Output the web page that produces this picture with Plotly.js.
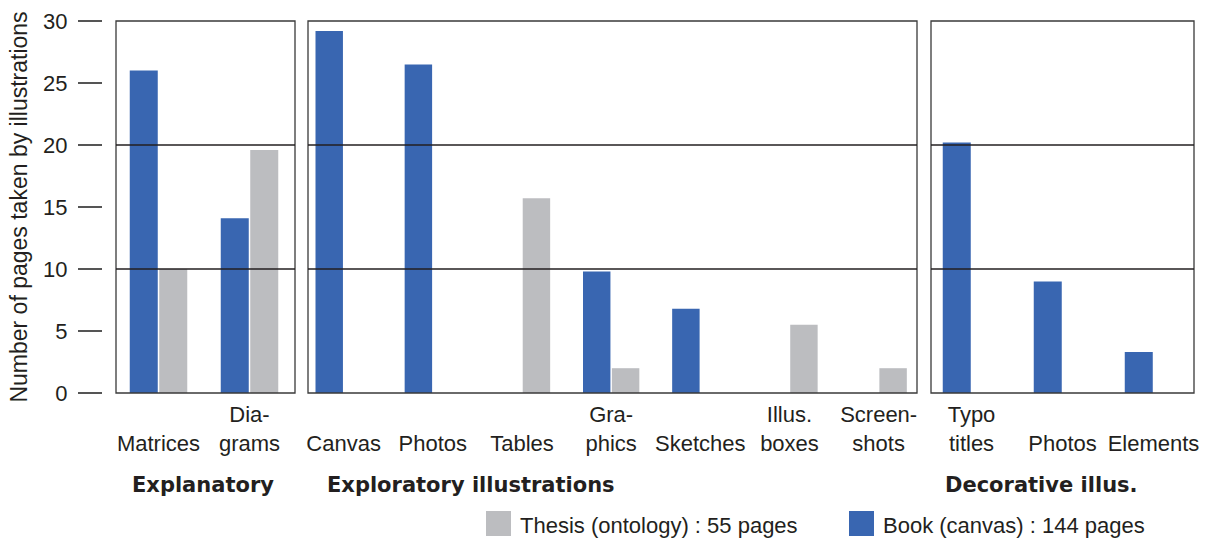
<!DOCTYPE html>
<html>
<head>
<meta charset="utf-8">
<script src="https://cdn.plot.ly/plotly-3.0.1.min.js"></script>
<style>html,body{margin:0;padding:0;background:#fff;}#chart{width:1205px;height:540px;}</style>
</head>
<body>
<div id="chart"></div>
<script>
// ---- data ----
const explanatoryCats = ['Matrices', 'Diagrams'];
const explanatoryLabels = [' <br>Matrices', 'Dia-<br>grams'];
const explanatoryBook = [26.0, 14.1];
const explanatoryThesis = [10.0, 19.6];

const exploratoryCats = ['Canvas', 'Photos', 'Tables', 'Graphics', 'Sketches', 'Illus. boxes', 'Screenshots'];
const exploratoryLabels = [' <br>Canvas', ' <br>Photos', ' <br>Tables', 'Gra-<br>phics', ' <br>Sketches', 'Illus.<br>boxes', 'Screen-<br>shots'];
const exploratoryBook = [29.2, 26.5, null, 9.8, 6.8, null, null];
const exploratoryThesis = [null, null, 15.7, 2.0, null, 5.5, 2.0];

const decorativeCats = ['Typo titles', 'Photos', 'Elements'];
const decorativeLabels = ['Typo<br>titles', ' <br>Photos', ' <br>Elements'];
const decorativeBook = [20.2, 9.0, 3.3];
const decorativeThesis = [null, null, null];

const groupTitles = ['Explanatory', 'Exploratory illustrations', 'Decorative illus.'];
const seriesNames = ['Book (canvas) : 144 pages', 'Thesis (ontology) : 55 pages'];
const yTickVals = [0, 5, 10, 15, 20, 25, 30];
const gridVals = [10, 20];
const yTitle = 'Number of pages taken by illustrations';

// ---- style ----
const W = 1205, H = 540;
const BLUE = '#3966b1', GREY = '#bcbdc0', INK = '#231f20', LINE = '#3a3a3a';
const FONT = '"Liberation Sans", Arial, Helvetica, sans-serif';
const FS = 22;
const px = v => v / W;
const py = v => 1 - v / H;

const panels = [
  {ax: 'x', cats: explanatoryCats, labels: explanatoryLabels, book: explanatoryBook, thesis: explanatoryThesis, dom: [116, 295], range: [-0.467, 1.5]},
  {ax: 'x2', cats: exploratoryCats, labels: exploratoryLabels, book: exploratoryBook, thesis: exploratoryThesis, dom: [308, 917], range: [-0.40, 6.43]},
  {ax: 'x3', cats: decorativeCats, labels: decorativeLabels, book: decorativeBook, thesis: decorativeThesis, dom: [931, 1194], range: [-0.445, 2.445]}
];

const traces = [];
panels.forEach(p => {
  traces.push({type: 'bar', x: p.cats, y: p.book, name: seriesNames[0], xaxis: p.ax, yaxis: 'y',
    marker: {color: BLUE}, showlegend: false});
  traces.push({type: 'bar', x: p.cats, y: p.thesis, name: seriesNames[1], xaxis: p.ax, yaxis: 'y',
    marker: {color: GREY}, showlegend: false});
});

const layout = {
  width: W, height: H, autosize: false,
  margin: {l: 0, r: 0, t: 0, b: 0},
  paper_bgcolor: '#fff', plot_bgcolor: 'rgba(0,0,0,0)',
  barmode: 'group', bargap: 0.352, bargroupgap: 0.05,
  font: {family: FONT, size: FS, color: INK},
  yaxis: {
    domain: [1 - 393 / H, 1 - 21 / H], range: [0, 30], anchor: 'free', position: px(102),
    tickvals: yTickVals, ticks: 'outside', ticklen: 24, tickwidth: 1.3, tickcolor: '#555',
    showgrid: false, zeroline: false, showline: false, fixedrange: true,
    tickfont: {family: FONT, size: FS, color: INK}, ticklabelstandoff: 6,
    title: {text: yTitle, font: {family: FONT, size: 23, color: INK}, standoff: 8}
  },
  shapes: [],
  annotations: []
};

panels.forEach((p, i) => {
  const key = i === 0 ? 'xaxis' : 'xaxis' + (i + 1);
  layout[key] = {
    domain: [px(p.dom[0]), px(p.dom[1])], anchor: 'y', type: 'category', range: p.range,
    tickvals: p.cats, ticktext: p.labels, ticks: '', showgrid: false, zeroline: false, showline: false,
    tickfont: {family: FONT, size: FS, color: INK}, ticklabelstandoff: 6, fixedrange: true
  };
  const xd = p.ax + ' domain';
  layout.shapes.push({type: 'rect', xref: xd, yref: 'y domain', x0: 0, x1: 1, y0: 0, y1: 1,
    line: {color: LINE, width: 1.3}, layer: 'above'});
  gridVals.forEach(g => layout.shapes.push({type: 'line', xref: xd, yref: 'y', x0: 0, x1: 1, y0: g, y1: g,
    line: {color: INK, width: 1.3}, layer: 'above'}));
});

// group titles
const titleX = [130, 325, 943];
groupTitles.forEach((t, i) => layout.annotations.push({
  text: '<b>' + t + '</b>', xref: 'paper', yref: 'paper', x: px(titleX[i]), y: py(485), xanchor: 'left', yanchor: 'middle',
  showarrow: false, font: {family: 'DejaVu Sans', size: 21, color: INK}
}));

// manual legend (thesis first, then book)
const legendItems = [
  {name: seriesNames[1], color: GREY, sq: 486, tx: 518},
  {name: seriesNames[0], color: BLUE, sq: 849, tx: 881}
];
legendItems.forEach(it => {
  layout.shapes.push({type: 'rect', xref: 'paper', yref: 'paper', x0: px(it.sq), x1: px(it.sq + 25), y0: py(536), y1: py(511),
    fillcolor: it.color, line: {width: 0}});
  layout.annotations.push({text: it.name, xref: 'paper', yref: 'paper', x: px(it.tx), y: py(525), xanchor: 'left', yanchor: 'middle',
    showarrow: false, font: {family: FONT, size: FS, color: INK}});
});

Plotly.newPlot('chart', traces, layout, {displayModeBar: false, staticPlot: true});
</script>
</body>
</html>
